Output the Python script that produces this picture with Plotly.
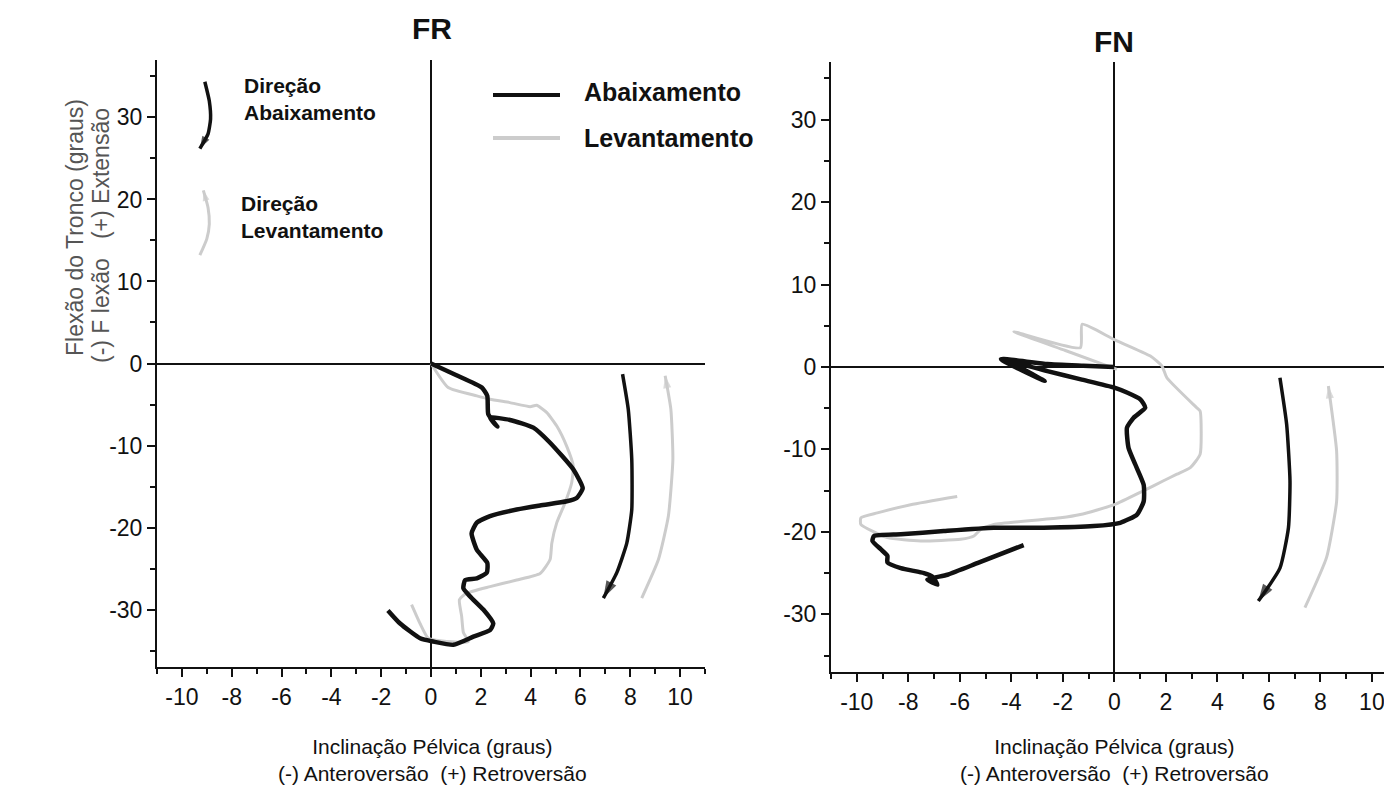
import plotly.graph_objects as go

# ---------------- data ----------------
# FR: pelvic tilt (x, degrees) vs trunk flexion (y, degrees)
fr_down_x = [0, 1.0, 2.04, 2.26, 2.3, 2.66, 2.37, 3.17, 4.11, 4.78, 5.71, 6.09, 5.85, 5.45, 4.38,
             3.44, 2.37, 1.84, 1.63, 1.84, 2.26, 2.24, 1.84, 1.37, 1.3, 1.57, 2.1, 2.5, 2.37,
             1.7, 0.9, 0.09, -0.44, -1.24, -1.73]
fr_down_y = [0, -1.4, -2.93, -3.95, -6.2, -7.7, -6.6, -6.88, -7.82, -9.66, -12.9, -15.2, -16.4,
             -16.8, -17.3, -17.8, -18.6, -19.4, -20.7, -22.7, -24.3, -25.5, -26.2, -26.4, -27.4,
             -28.4, -30.0, -31.7, -32.5, -33.3, -34.3, -33.9, -33.5, -31.7, -30.1]
fr_up_x = [-0.78, -0.44, -0.11, 0.63, 1.5, 1.3, 1.23, 1.14, 1.43, 2.37, 3.44, 4.38, 4.78, 4.85,
           5.05, 5.38, 5.65, 5.71, 5.45, 5.05, 4.65, 4.24, 3.98, 3.17, 2.37, 1.84, 0.69, 0]
fr_up_y = [-29.4, -31.7, -33.5, -33.9, -33.9, -32.8, -30.8, -28.8, -28.0, -27.2, -26.4, -25.6,
           -23.9, -21.9, -19.4, -17.0, -14.5, -12.5, -10.1, -7.62, -5.99, -5.1, -5.26, -4.77,
           -4.36, -3.95, -2.93, 0]

# FN
fn_down_x = [0, -1.2, -2.6, -4.4, -2.7, -4.0, -2.6, -1.3, 0.0, 0.49, 1.01, 1.2, 0.75, 0.49, 0.55,
             0.81, 1.14, 1.14, 0.88, 0.23, -0.8, -2.74, -4.68, -6.62, -8.29, -9.33, -9.39, -9.07,
             -8.81, -8.81, -8.29, -7.39, -7.07, -6.87, -7.26, -6.48, -5.32, -3.52]
fn_down_y = [0, 0.15, 0.35, 0.95, -1.7, 0.6, -0.5, -1.5, -2.5, -3.1, -3.92, -4.94, -6.15, -7.37,
             -9.79, -11.8, -14.3, -16.3, -17.9, -18.9, -19.3, -19.5, -19.5, -19.9, -20.3, -20.5,
             -21.1, -22.1, -22.9, -23.7, -24.4, -25.0, -25.4, -26.4, -25.8, -25.2, -23.8, -21.6]
fn_up_x = [-6.1, -7.91, -9.2, -9.84, -9.84, -8.81, -7.52, -5.97, -5.45, -5.19, -4.68, -2.09, -1.32,
           0.0, 1.14, 1.91, 2.43, 2.95, 3.33, 3.33, 3.2, 2.04, 1.85, 1.4, -0.03, -1.25, -1.32,
           -3.9, -1.9, 0.1]
fn_up_y = [-15.7, -16.7, -17.7, -18.3, -19.1, -20.7, -21.1, -20.9, -20.5, -19.7, -19.1, -18.3,
           -17.9, -16.7, -15.0, -13.8, -13.0, -12.2, -10.6, -5.34, -4.94, -1.3, 0.12, 1.33, 3.36,
           5.18, 2.34, 4.28, 2.0, -0.28]

# direction guides drawn beside each trajectory
fr_dir_down_x = [7.69, 7.92, 8.06, 8.06, 7.86, 7.46, 6.92]
fr_dir_down_y = [-1.3, -5.6, -11.7, -17.8, -21.9, -25.5, -28.6]
fr_dir_up_x = [8.46, 9.13, 9.53, 9.71, 9.63, 9.4]
fr_dir_up_y = [-28.6, -23.9, -18.6, -11.7, -5.6, -1.5]
fn_dir_down_x = [6.43, 6.69, 6.82, 6.76, 6.43, 5.59]
fn_dir_down_y = [-1.3, -6.95, -13.8, -19.5, -24.4, -28.4]
fn_dir_up_x = [7.4, 8.24, 8.63, 8.63, 8.31]
fn_dir_up_y = [-29.2, -23.1, -16.3, -10.2, -2.3]

# key arrows (upper-left of FR)
key_down_x = [-9.08, -8.9, -8.85, -8.95, -9.28]
key_down_y = [34.35, 32.0, 29.8, 28.0, 26.2]
key_up_x = [-9.28, -9.0, -8.9, -8.95, -9.14]
key_up_y = [13.2, 15.2, 17.0, 19.0, 21.1]

x_tickvals = [-10, -8, -6, -4, -2, 0, 2, 4, 6, 8, 10]
x_ticktext = ["-10", "-8", "-6", "-4", "-2", "0", "2", "4", "6", "8", "10"]
y_tickvals = [-30, -20, -10, 0, 10, 20, 30]
y_ticktext = ["-30", "-20", "-10", "0", "10", "20", "30"]

BLACK = "#111111"
GRAY = "#cccccc"
FONT = "Liberation Sans, Arial, sans-serif"

fig = go.Figure()


def curve(x, y, color, width, xa, ya):
    fig.add_trace(go.Scatter(x=x, y=y, mode="lines", xaxis=xa, yaxis=ya,
                             line=dict(color=color, width=width, shape="spline", smoothing=0.5),
                             hoverinfo="skip"))


def arrow(x, y, color, width, head, xa, ya):
    curve(x, y, color, width, xa, ya)
    fig.add_trace(go.Scatter(x=x[-2:], y=y[-2:], mode="markers", xaxis=xa, yaxis=ya,
                             marker=dict(symbol="arrow", angleref="previous", size=[0, head],
                                         color=color, line=dict(width=0)),
                             hoverinfo="skip"))


# FR
curve(fr_up_x, fr_up_y, GRAY, 3, "x", "y")
curve(fr_down_x, fr_down_y, BLACK, 4.5, "x", "y")
arrow(fr_dir_down_x, fr_dir_down_y, BLACK, 3.5, 18, "x", "y")
arrow(fr_dir_up_x, fr_dir_up_y, GRAY, 3, 13, "x", "y")
arrow(key_down_x, key_down_y, BLACK, 3.5, 13, "x", "y")
arrow(key_up_x, key_up_y, GRAY, 3, 11, "x", "y")

# FN
curve(fn_up_x, fn_up_y, GRAY, 3, "x2", "y2")
curve(fn_down_x, fn_down_y, BLACK, 4.5, "x2", "y2")
arrow(fn_dir_down_x, fn_dir_down_y, BLACK, 3.5, 18, "x2", "y2")
arrow(fn_dir_up_x, fn_dir_up_y, GRAY, 3, 13, "x2", "y2")

W, H = 1384, 802

common = dict(showgrid=False, zeroline=True, zerolinecolor=BLACK, zerolinewidth=2,
              showline=True, linecolor=BLACK, linewidth=2, ticks="outside", ticklen=8,
              tickwidth=2, tickcolor=BLACK, tickfont=dict(family=FONT, size=23, color=BLACK),
              tickmode="array", fixedrange=True, ticklabeloverflow="allow")

xcommon = dict(common, tickvals=x_tickvals, ticktext=x_ticktext,
               minor=dict(ticks="outside", ticklen=5, tickwidth=2, tickcolor=BLACK, dtick=1,
                          tick0=0))
ycommon = dict(common, tickvals=y_tickvals, ticktext=y_ticktext,
               minor=dict(ticks="outside", ticklen=5, tickwidth=2, tickcolor=BLACK, dtick=5,
                          tick0=0))

fig.update_layout(
    width=W, height=H, margin=dict(l=0, r=0, t=0, b=0),
    paper_bgcolor="white", plot_bgcolor="white", showlegend=False,
    xaxis=dict(xcommon, domain=[157 / W, 705 / W], range=[-11, 11], anchor="y"),
    yaxis=dict(ycommon, domain=[1 - 667 / H, 1 - 60 / H], range=[-37, 37], anchor="x"),
    xaxis2=dict(xcommon, domain=[831 / W, 1.0], range=[-11, 10.47], anchor="y2"),
    yaxis2=dict(ycommon, domain=[1 - 672 / H, 1 - 62 / H], range=[-37, 37], anchor="x2"),
)


def note(text, px, py, size, color=BLACK, xanchor="center", angle=0, align="center"):
    return dict(text=text, x=px / W, y=1 - py / H, xref="paper", yref="paper",
                xanchor=xanchor, yanchor="middle", align=align, textangle=angle,
                showarrow=False, font=dict(family=FONT, size=size, color=color))


ann = []
# panel titles
ann.append(note("<b>FR</b>", 432, 28, 30))
ann.append(note("<b>FN</b>", 1114, 42, 30))
# x-axis titles
xt = "Inclinação Pélvica (graus)<br>(-) Anteroversão\u00a0\u00a0(+) Retroversão"
for cx in (432, 1114):
    ann.append(note(xt, cx, 760, 21))
# y-axis title
ann.append(note("Flexão do Tronco (graus)", 75, 228, 23, color="#555555", angle=-90))
ann.append(note("(-) F lexão\u00a0\u00a0\u00a0(+) Extensão", 101, 236, 23, color="#555555",
                angle=-90))
# key labels
ann.append(note("<b>Direção<br>Abaixamento</b>", 242, 99, 21, xanchor="left", align="left"))
ann.append(note("<b>Direção<br>Levantamento</b>", 239, 217, 21, xanchor="left", align="left"))
ann.append(note("<b>Abaixamento</b>", 582, 92, 25, xanchor="left"))
ann.append(note("<b>Levantamento</b>", 582, 138, 25, xanchor="left"))

shapes = [
    dict(type="line", xref="paper", yref="paper", x0=493 / W, x1=560 / W, y0=1 - 95 / H,
         y1=1 - 95 / H, line=dict(color=BLACK, width=4)),
    dict(type="line", xref="paper", yref="paper", x0=493 / W, x1=560 / W, y0=1 - 138 / H,
         y1=1 - 138 / H, line=dict(color=GRAY, width=4)),
]

fig.update_layout(annotations=ann, shapes=shapes)
fig.write_html("out.html")
